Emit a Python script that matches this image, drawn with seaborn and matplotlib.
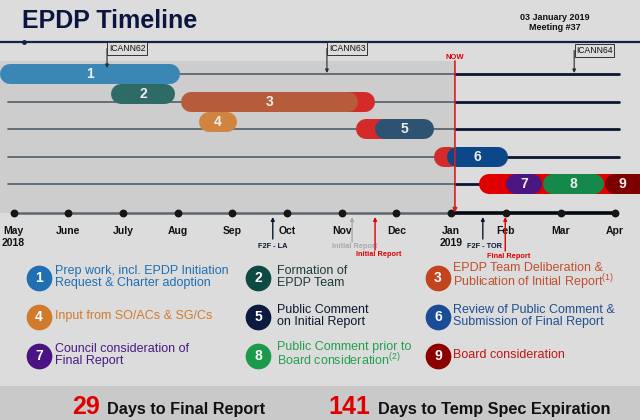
import matplotlib
matplotlib.use("Agg")
import matplotlib.pyplot as plt
import seaborn as sns
import pandas as pd
from matplotlib.patches import Rectangle

# ---------------- data ----------------
months = ["May", "June", "July", "Aug", "Sep", "Oct", "Nov", "Dec", "Jan", "Feb", "Mar", "Apr"]
month_years = ["2018", "", "", "", "", "", "", "", "2019", "", "", ""]

# phases (x in months since 1 May 2018; row = swim-lane)
phase_ids = ["1", "2", "3", "4", "5", "6", "7", "8", "9"]
phase_rows = [1.0, 1.72, 2.0, 2.74, 3.0, 4.0, 5.0, 5.0, 5.0]
phase_start = [-0.25, 1.78, 3.06, 3.39, 6.61, 7.93, 9.00, 9.68, 10.81]
phase_end = [3.04, 2.95, 6.30, 4.09, 7.69, 9.04, 9.66, 10.80, 12.18]
phase_colors = ["#3a86b4", "#2f6b66", "#b75c3a", "#d0843f", "#2e5272",
                "#0b4789", "#4b167f", "#14894a", "#7d0000"]

# delays (red extensions)
delay_rows = [2.0, 3.0, 4.0, 5.0]
delay_start = [5.24, 6.26, 7.69, 8.51]
delay_end = [6.61, 7.07, 8.16, 11.82]
delay_colors = ["#d42a2a", "#d42a2a", "#d42a2a", "#e00000"]

lane_rows = [1, 2, 3, 4, 5]
lane_start = [3.04, -0.10, -0.10, -0.10, -0.10]
lane_end = [11.07, 11.07, 11.07, 11.07, 11.07]

now_x = 8.07

icann_labels = ["ICANN62", "ICANN63", "ICANN64"]
icann_x = [1.71, 5.73, 10.25]

ms_labels = ["F2F - LA", "Initial Report", "Initial Report", "F2F - TOR", "Final Report"]
ms_x = [4.74, 6.19, 6.61, 8.58, 8.99]
ms_colors = ["#0b1633", "#a9a9a9", "#e00000", "#0b1633", "#e00000"]

legend_ids = ["1", "2", "3", "4", "5", "6", "7", "8", "9"]
legend_labels = [
    "Prep work, incl. EPDP Initiation\nRequest & Charter adoption",
    "Formation of\nEPDP Team",
    "EPDP Team Deliberation &\nPublication of Initial Report$^{\\mathregular{(1)}}$",
    "Input from SO/ACs & SG/Cs",
    "Public Comment\non Initial Report",
    "Review of Public Comment &\nSubmission of Final Report",
    "Council consideration of\nFinal Report",
    "Public Comment prior to\nBoard consideration$^{\\mathregular{(2)}}$",
    "Board consideration",
]
legend_circle_colors = ["#1f6fb2", "#0d4a44", "#c2431c", "#d27a2c", "#0b1a3e",
                        "#1a4d96", "#4a1283", "#1c9a4c", "#8c0000"]
legend_text_colors = ["#1f6fb2", "#1e3c3a", "#c0502e", "#d27a2c", "#0b1a30",
                      "#1f4f8f", "#4a1a85", "#22a04e", "#c41414"]

footer_numbers = ["29", "141"]
footer_texts = ["Days to Final Report", "Days to Temp Spec Expiration"]

# ---------------- style ----------------
sns.set_theme(style="white")
plt.rcParams["font.family"] = ["Liberation Sans", "DejaVu Sans"]
plt.rcParams["mathtext.fontset"] = "custom"
plt.rcParams["mathtext.rm"] = "Liberation Sans"

BG = "#dcdcdc"
SHADE = "#cdcdcd"
FOOT = "#c9c9c9"
GRAYL = "#5c6670"
NAVY = "#0b1633"

W, H = 640, 420
X0, DX = 13.5, 54.7
Y0, DY = 74.0, 27.6


def mx(px):
    return (px - X0) / DX


def ry(py):
    return (py - Y0) / DY + 1


def fx(px):
    return px / W


def fy(py):
    return 1 - py / H


fig = plt.figure(figsize=(6.4, 4.2), dpi=100)
fig.patch.set_facecolor(BG)
ax = fig.add_axes([0, 0, 1, 1])
ax.set_facecolor(BG)
ax.set_xlim(mx(0), mx(W))
ax.set_ylim(ry(H), ry(0))
ax.axis("off")

axis_row = ry(212.7)

# shaded past region
ax.add_patch(Rectangle((mx(0), ry(61)), now_x - mx(0), axis_row - ry(61),
                       facecolor=SHADE, edgecolor="none", zorder=0))
# footer band
fig.patches.append(Rectangle((0, 0), 1, fy(386), transform=fig.transFigure,
                             facecolor=FOOT, edgecolor="none", zorder=0))

# top rule
ax.plot([mx(0), mx(W)], [ry(42), ry(42)], color="#14214a", lw=1.6, zorder=2)
ax.plot([mx(24)], [ry(42)], marker="o", ms=2.5, color="#14214a", zorder=2)

# swim-lane lines
for r, s, e in zip(lane_rows, lane_start, lane_end):
    ax.plot([s, now_x], [r, r], color=GRAYL, lw=1.3, zorder=1)
    ax.plot([now_x, e], [r, r], color=NAVY, lw=2.0, zorder=1)

# timeline axis
ax.plot([0, now_x], [axis_row, axis_row], color=GRAYL, lw=1.8, zorder=2)
ax.plot([now_x, 11], [axis_row, axis_row], color="#000814", lw=2.6, zorder=2)
dots = pd.DataFrame({"month": range(len(months)), "y": [axis_row] * len(months)})
sns.scatterplot(data=dots, x="month", y="y", s=32, color="#161616",
                linewidth=0, ax=ax, zorder=5, legend=False)
for i, (m, yr) in enumerate(zip(months, month_years)):
    ax.text(i, ry(231), m, ha="center", va="center", fontsize=7.5,
            fontweight="bold", color="#111111")
    if yr:
        ax.text(i, ry(243), yr, ha="center", va="center", fontsize=7.5,
                fontweight="bold", color="#111111")

# bars
LW = 20 * 0.72
R = 10 / DX
for r, s, e, c in zip(delay_rows, delay_start, delay_end, delay_colors):
    ax.plot([s + R, e - R], [r, r], color=c, lw=LW, solid_capstyle="round", zorder=3)
for pid, r, s, e, c in zip(phase_ids, phase_rows, phase_start, phase_end, phase_colors):
    ax.plot([s + R, e - R], [r, r], color=c, lw=LW, solid_capstyle="round", zorder=4)
    cx = (s + min(e, mx(W))) / 2
    ax.text(cx, r, pid, ha="center", va="center", fontsize=10,
            fontweight="bold", color="#eeeeee", zorder=6)

# NOW marker
ax.text(now_x, ry(57), "NOW", ha="center", va="center", fontsize=5.5,
        fontweight="bold", color="#e00000")
ax.annotate("", xy=(now_x, axis_row), xytext=(now_x, ry(61)),
            arrowprops=dict(arrowstyle="-|>", color="#d42020", lw=1.2,
                            mutation_scale=6, shrinkA=0, shrinkB=0), zorder=7)

# ICANN meetings
icann_box_y = [48.5, 48.5, 50.5]
icann_tip_y = [68, 73, 73]
for lab, x, by, ty in zip(icann_labels, icann_x, icann_box_y, icann_tip_y):
    ax.annotate("", xy=(x, ry(ty)), xytext=(x, ry(by)),
                arrowprops=dict(arrowstyle="-|>", color="#2a2a2a", lw=0.8,
                                mutation_scale=5, shrinkA=0, shrinkB=0), zorder=6)
    ax.text(x + mx(15.5) - mx(13.5), ry(by), lab, ha="left", va="center",
            fontsize=6.2, color="#111111", zorder=7,
            bbox=dict(boxstyle="square,pad=0.18", facecolor=BG,
                      edgecolor="#333333", lw=0.7))

# milestones below the axis
ms_base = [239, 242, 250, 239, 251]
ms_text_y = [246, 246, 255, 246, 256]
ms_dx = [0, 3, 4, 2, 3]
for lab, x, c, b, t, d in zip(ms_labels, ms_x, ms_colors, ms_base, ms_text_y, ms_dx):
    ax.annotate("", xy=(x, ry(217)), xytext=(x, ry(b)),
                arrowprops=dict(arrowstyle="-|>", color=c, lw=1.0,
                                mutation_scale=5, shrinkA=0, shrinkB=0), zorder=6)
    ax.text(x + d / DX, ry(t), lab, ha="center", va="center", fontsize=5.3,
            fontweight="bold", color=c, zorder=6)

# title & meeting info
fig.text(fx(22), fy(28), "EPDP Timeline", fontsize=18, fontweight="bold",
         color="#0b1640", va="baseline", ha="left")
fig.text(fx(555), fy(17), "03 January 2019", fontsize=6.5, fontweight="bold",
         color="#111111", ha="center", va="center")
fig.text(fx(555), fy(28), "Meeting #37", fontsize=6.5, fontweight="bold",
         color="#111111", ha="center", va="center")

# legend
col_cx = [39, 258, 438]
col_tx = [55, 277, 453]
row_cy = [278, 317, 356]
for i, (lid, lab, cc, tc) in enumerate(zip(legend_ids, legend_labels,
                                           legend_circle_colors, legend_text_colors)):
    r_i, c_i = divmod(i, 3)
    cxp, cyp = col_cx[c_i], row_cy[r_i]
    fig.add_artist(plt.Line2D([fx(cxp)], [fy(cyp)], marker="o", ms=17.5,
                              color=cc, mec=cc, transform=fig.transFigure))
    fig.text(fx(cxp), fy(cyp), lid, ha="center", va="center", fontsize=10,
             fontweight="bold", color="white")
    fig.text(fx(col_tx[c_i]), fy(cyp - 1), lab, ha="left", va="center",
             fontsize=9, color=tc, linespacing=0.9)

# footer
num_right = [100, 370]
txt_left = [107, 378]
for n, t, nr, tl in zip(footer_numbers, footer_texts, num_right, txt_left):
    fig.text(fx(nr), fy(414), n, ha="right", va="baseline", fontsize=18,
             fontweight="bold", color="#e00000")
    fig.text(fx(tl), fy(414), t, ha="left", va="baseline", fontsize=11.7,
             fontweight="bold", color="#111111")

fig.savefig("out.png", dpi=100, facecolor=BG)
